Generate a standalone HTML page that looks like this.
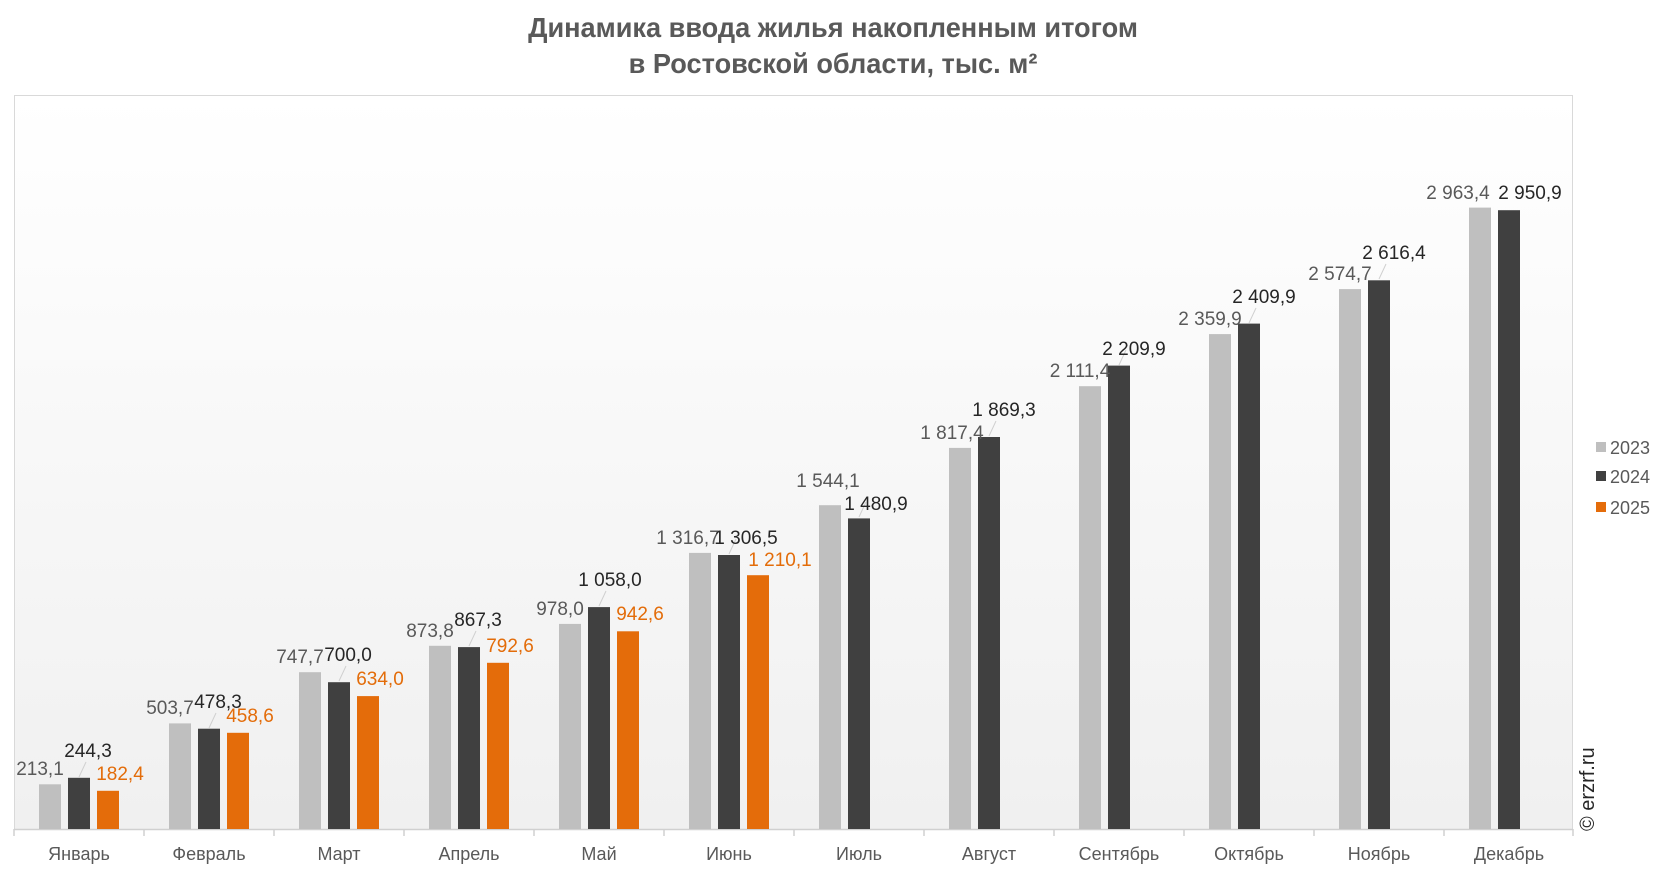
<!DOCTYPE html>
<html><head><meta charset="utf-8"><style>
body{margin:0;background:#fff;}
svg{display:block;font-family:"Liberation Sans",sans-serif;}
</style></head><body>
<svg width="1666" height="872" viewBox="0 0 1666 872" xmlns="http://www.w3.org/2000/svg">
<defs><linearGradient id="bg" x1="0" y1="0" x2="0" y2="1"><stop offset="0" stop-color="#ffffff"/><stop offset="1" stop-color="#f0f0f0"/></linearGradient></defs>
<rect x="0" y="0" width="1666" height="872" fill="#fff"/>
<g transform="translate(833,0) scale(0.97,1)" font-weight="bold" font-size="28" fill="#595959" text-anchor="middle">
<text x="0" y="37">Динамика ввода жилья накопленным итогом</text>
<text x="0" y="73">в Ростовской области, тыс. м²</text>
</g>
<rect x="14.5" y="95.5" width="1558" height="734" fill="url(#bg)" stroke="#d9d9d9"/>
<line x1="14" y1="829.5" x2="1573" y2="829.5" stroke="#d0d0d0" stroke-width="1.5"/>
<g stroke="#d0d0d0" stroke-width="1.5">
<line x1="14" y1="829" x2="14" y2="836"/><line x1="144" y1="829" x2="144" y2="836"/><line x1="274" y1="829" x2="274" y2="836"/><line x1="404" y1="829" x2="404" y2="836"/><line x1="534" y1="829" x2="534" y2="836"/><line x1="664" y1="829" x2="664" y2="836"/><line x1="794" y1="829" x2="794" y2="836"/><line x1="924" y1="829" x2="924" y2="836"/><line x1="1054" y1="829" x2="1054" y2="836"/><line x1="1184" y1="829" x2="1184" y2="836"/><line x1="1314" y1="829" x2="1314" y2="836"/><line x1="1444" y1="829" x2="1444" y2="836"/><line x1="1573" y1="829" x2="1573" y2="836"/>
</g>
<g fill="#bfbfbf">
<rect x="39" y="784.3" width="22" height="44.7"/><rect x="169" y="723.4" width="22" height="105.6"/><rect x="299" y="672.2" width="22" height="156.8"/><rect x="429" y="645.8" width="22" height="183.2"/><rect x="559" y="623.9" width="22" height="205.1"/><rect x="689" y="552.9" width="22" height="276.1"/><rect x="819" y="505.2" width="22" height="323.8"/><rect x="949" y="447.9" width="22" height="381.1"/><rect x="1079" y="386.2" width="22" height="442.8"/><rect x="1209" y="334.1" width="22" height="494.9"/><rect x="1339" y="289.1" width="22" height="539.9"/><rect x="1469" y="207.6" width="22" height="621.4"/>
</g>
<g fill="#404040">
<rect x="68" y="777.8" width="22" height="51.2"/><rect x="198" y="728.7" width="22" height="100.3"/><rect x="328" y="682.2" width="22" height="146.8"/><rect x="458" y="647.1" width="22" height="181.9"/><rect x="588" y="607.1" width="22" height="221.9"/><rect x="718" y="555" width="22" height="274"/><rect x="848" y="518.4" width="22" height="310.6"/><rect x="978" y="437" width="22" height="392"/><rect x="1108" y="365.6" width="22" height="463.4"/><rect x="1238" y="323.6" width="22" height="505.4"/><rect x="1368" y="280.3" width="22" height="548.7"/><rect x="1498" y="210.2" width="22" height="618.8"/>
</g>
<g fill="#e46c0a">
<rect x="97" y="790.8" width="22" height="38.2"/><rect x="227" y="732.8" width="22" height="96.2"/><rect x="357" y="696.1" width="22" height="132.9"/><rect x="487" y="662.8" width="22" height="166.2"/><rect x="617" y="631.3" width="22" height="197.7"/><rect x="747" y="575.2" width="22" height="253.8"/>
</g>
<g stroke="#d0d0d0" stroke-width="1">
<line x1="79" y1="777" x2="86" y2="762"/><line x1="209" y1="728" x2="216" y2="713"/><line x1="339" y1="681" x2="346" y2="666"/><line x1="469" y1="646" x2="476" y2="631"/><line x1="599" y1="606" x2="606" y2="591"/><line x1="729" y1="554" x2="736" y2="539"/><line x1="859" y1="517" x2="866" y2="502"/><line x1="989" y1="436" x2="996" y2="421"/><line x1="1119" y1="365" x2="1126" y2="350"/><line x1="1249" y1="323" x2="1256" y2="308"/><line x1="1379" y1="279" x2="1386" y2="264"/>
</g>
<g font-size="19" text-anchor="middle" fill="#595959">
<text x="40" y="775">213,1</text><text x="170" y="714">503,7</text><text x="300" y="663">747,7</text><text x="430" y="637">873,8</text><text x="560" y="615">978,0</text><text x="688" y="544">1 316,7</text><text x="828" y="487">1 544,1</text><text x="952" y="439">1 817,4</text><text x="1080" y="377">2 111,4</text><text x="1210" y="325">2 359,9</text><text x="1340" y="280">2 574,7</text><text x="1458" y="199">2 963,4</text>
</g>
<g font-size="19" text-anchor="middle" fill="#262626">
<text x="88" y="757">244,3</text><text x="218" y="708">478,3</text><text x="348" y="661">700,0</text><text x="478" y="626">867,3</text><text x="610" y="586">1 058,0</text><text x="746" y="544">1 306,5</text><text x="876" y="510">1 480,9</text><text x="1004" y="416">1 869,3</text><text x="1134" y="355">2 209,9</text><text x="1264" y="303">2 409,9</text><text x="1394" y="259">2 616,4</text><text x="1530" y="199">2 950,9</text>
</g>
<g font-size="19" text-anchor="middle" fill="#e36c09">
<text x="120" y="780">182,4</text><text x="250" y="722">458,6</text><text x="380" y="685">634,0</text><text x="510" y="652">792,6</text><text x="640" y="620">942,6</text><text x="780" y="566">1 210,1</text>
</g>
<g font-size="18" text-anchor="middle" fill="#595959">
<text x="79" y="860">Январь</text><text x="209" y="860">Февраль</text><text x="339" y="860">Март</text><text x="469" y="860">Апрель</text><text x="599" y="860">Май</text><text x="729" y="860">Июнь</text><text x="859" y="860">Июль</text><text x="989" y="860">Август</text><text x="1119" y="860">Сентябрь</text><text x="1249" y="860">Октябрь</text><text x="1379" y="860">Ноябрь</text><text x="1509" y="860">Декабрь</text>
</g>
<rect x="1596" y="442" width="10" height="10" fill="#bfbfbf"/>
<rect x="1596" y="471" width="10" height="10" fill="#404040"/>
<rect x="1596" y="502" width="10" height="10" fill="#e46c0a"/>
<g font-size="18" fill="#595959">
<text x="1610" y="454">2023</text><text x="1610" y="483">2024</text><text x="1610" y="514">2025</text>
</g>
<text transform="translate(1594,831) rotate(-90)" font-size="20" fill="#262626">© erzrf.ru</text>
</svg>
</body></html>
